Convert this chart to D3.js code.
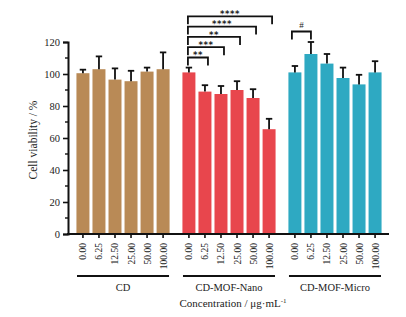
<!DOCTYPE html>
<html>
<head>
<meta charset="utf-8">
<script src="https://cdn.jsdelivr.net/npm/d3@7"></script>
<style>
  html, body { margin: 0; padding: 0; background: #fff; }
  svg { display: block; font-family: "Liberation Serif", "DejaVu Serif", serif; }
</style>
</head>
<body>
<div id="chart"></div>
<script>
// concentrations (ug/mL) and the three groups
const concentrations = ["0.00", "6.25", "12.50", "25.00", "50.00", "100.00"];
const groups = ["CD", "CD-MOF-Nano", "CD-MOF-Micro"];
const groupColors = ["#b98a56", "#e8464d", "#2ea9c2"];

// mean viability (%) per group, same order as concentrations
const cdMean    = [100.5, 103, 96.5, 95.5, 101.5, 103];
const nanoMean  = [101, 89, 87.5, 90, 85, 65.5];
const microMean = [101, 112.5, 106.5, 97.5, 93.5, 101];
// upper error (SD)
const cdErr    = [2.2, 8, 7, 6.5, 2.5, 10.5];
const nanoErr  = [3, 4, 5, 5.5, 5.5, 6.5];
const microErr = [4, 7.5, 6, 6.5, 6, 7];

const yTicks = [0, 20, 40, 60, 80, 100, 120];

// significance brackets (within Nano group, from 0.00 to target)
const nanoSig = [
  { to: "6.25",   label: "**" },
  { to: "12.50",  label: "***" },
  { to: "25.00",  label: "**" },
  { to: "50.00",  label: "****" },
  { to: "100.00", label: "****" }
];
const microSig = [{ from: "0.00", to: "6.25", label: "#" }];

const means = [cdMean, nanoMean, microMean];
const errs = [cdErr, nanoErr, microErr];
const data = [];
groups.forEach((g, gi) => concentrations.forEach((c, ci) => {
  data.push({ group: g, conc: c, mean: means[gi][ci], err: errs[gi][ci], color: groupColors[gi] });
}));

const W = 406, H = 317;
const svg = d3.select("#chart").append("svg").attr("width", W).attr("height", H);

const gx = d3.scaleBand().domain(groups).range([75, 383]).paddingInner(0.094).paddingOuter(0);
const bx = d3.scaleBand().domain(concentrations).range([0, gx.bandwidth()]).paddingInner(0.19).paddingOuter(0.09);
const y = d3.scaleLinear().domain([0, 120]).range([234, 42]);
const xPos = d => gx(d.group) + bx(d.conc);
const xMid = (g, c) => gx(g) + bx(c) + bx.bandwidth() / 2;

// bars
svg.append("g").selectAll("rect").data(data).join("rect")
  .attr("x", xPos)
  .attr("y", d => y(d.mean))
  .attr("width", bx.bandwidth())
  .attr("height", d => y(0) - y(d.mean))
  .attr("fill", d => d.color);

// error bars (upper only)
const eb = svg.append("g").attr("stroke", "#111").attr("stroke-width", 1.8).attr("fill", "none");
data.forEach(d => {
  const cx = xMid(d.group, d.conc);
  eb.append("line").attr("x1", cx).attr("x2", cx).attr("y1", y(d.mean)).attr("y2", y(d.mean + d.err));
  eb.append("line").attr("x1", cx - 3.2).attr("x2", cx + 3.2).attr("y1", y(d.mean + d.err)).attr("y2", y(d.mean + d.err));
});

// y axis
const yAxis = svg.append("g").attr("transform", "translate(68,0)")
  .call(d3.axisLeft(y).tickValues(yTicks).tickSize(5).tickPadding(3));
yAxis.select(".domain").attr("stroke-width", 2).attr("stroke", "#111");
yAxis.selectAll(".tick line").attr("stroke-width", 1.6).attr("stroke", "#111");
yAxis.selectAll("text").attr("font-size", 10.5).attr("fill", "#222")
  .attr("font-family", "Liberation Serif, serif");
// minor ticks
svg.append("g").selectAll("line").data(d3.range(10, 120, 20)).join("line")
  .attr("x1", 65).attr("x2", 68).attr("y1", d => y(d)).attr("y2", d => y(d))
  .attr("stroke", "#111").attr("stroke-width", 1.4);

// x axis line
svg.append("line").attr("x1", 67).attr("x2", 389).attr("y1", y(0)).attr("y2", y(0))
  .attr("stroke", "#111").attr("stroke-width", 2);

// x ticks + rotated labels
groups.forEach(g => {
  const ax = svg.append("g").attr("transform", `translate(${gx(g)},${y(0)})`)
    .call(d3.axisBottom(bx).tickSize(4).tickFormat(""));
  ax.select(".domain").remove();
  ax.selectAll(".tick line").attr("stroke", "#111").attr("stroke-width", 1.6);
  concentrations.forEach(c => {
    svg.append("text")
      .attr("transform", `translate(${xMid(g, c) + 3.5},${y(0) + 9}) rotate(-90)`)
      .attr("text-anchor", "end")
      .attr("font-size", 9.5).attr("fill", "#222")
      .text(c);
  });
  // group underline + name
  svg.append("line").attr("x1", gx(g) + 2).attr("x2", gx(g) + gx.bandwidth() - 2)
    .attr("y1", 276).attr("y2", 276).attr("stroke", "#111").attr("stroke-width", 2);
  svg.append("text").attr("x", gx(g) + gx.bandwidth() / 2).attr("y", 290.5)
    .attr("text-anchor", "middle").attr("font-size", 10.5).attr("fill", "#222").text(g);
});

// axis titles
svg.append("text").attr("x", 233).attr("y", 307).attr("text-anchor", "middle")
  .attr("font-size", 11).attr("fill", "#222")
  .html('Concentration / μg·mL<tspan dy="-4" font-size="7">-1</tspan>');
svg.append("text").attr("transform", `translate(37,${(y(0) + y(120)) / 2 + 2}) rotate(-90)`)
  .attr("text-anchor", "middle").attr("font-size", 11.5).attr("fill", "#222")
  .text("Cell viability / %");

// significance brackets
const sg = svg.append("g");
const bracket = (x1, x2, yy, label) => {
  sg.append("path")
    .attr("d", `M${x1},${yy + 8}V${yy}H${x2}V${yy + 8}`)
    .attr("fill", "none").attr("stroke", "#111").attr("stroke-width", 1.8);
  const star = label.includes("*");
  sg.append("text").attr("x", (x1 + x2) / 2).attr("y", star ? yy + 0.8 : yy - 4)
    .attr("text-anchor", "middle").attr("fill", "#222")
    .attr("font-size", star ? 8.5 : 9)
    .attr("font-family", star ? "DejaVu Sans, sans-serif" : null)
    .attr("font-weight", star ? "bold" : null)
    .attr("letter-spacing", star ? 0.6 : null)
    .text(label);
};
nanoSig.forEach((s, i) => {
  const yy = 57.5 - i * 10.3;
  bracket(xMid("CD-MOF-Nano", "0.00") - 1, xMid("CD-MOF-Nano", s.to) + 3, yy, s.label);
});
microSig.forEach(s => {
  bracket(xMid("CD-MOF-Micro", s.from) - 3, xMid("CD-MOF-Micro", s.to), 31.5, s.label);
});
</script>
</body>
</html>
